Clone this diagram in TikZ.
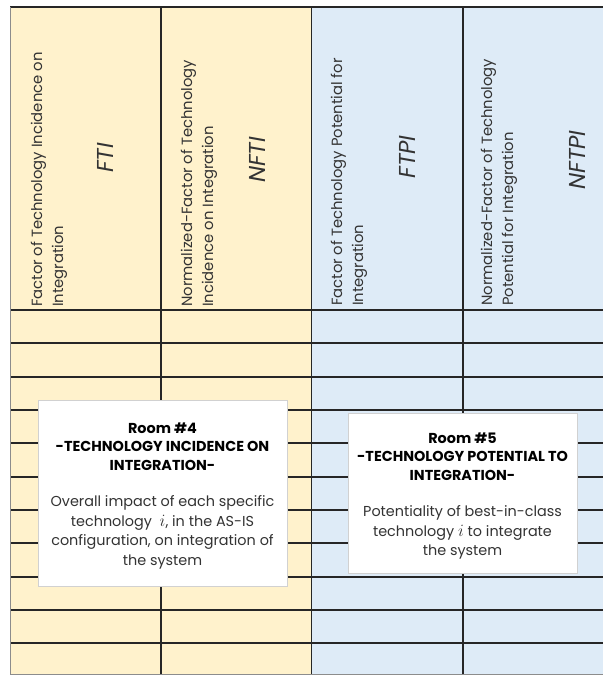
\documentclass[tikz,border=0pt]{standalone}
\usepackage{fontspec}
\setmainfont{Poppins}
\definecolor{yellowbg}{HTML}{FFF2CC}
\definecolor{bluebg}{HTML}{DEEBF7}
\definecolor{inkgray}{HTML}{333333}
\newcommand{\techi}{{\fontsize{17}{19}\selectfont$i$}}
\begin{document}
\begin{tikzpicture}[x=1pt,y=-1pt,
  grid/.style={draw=black!85, line width=1.2pt},
  edge/.style={draw=black!45, line width=1pt},
  hdr/.style={rotate=90, anchor=base west, inner sep=0pt, text=inkgray,
    font=\fontsize{14.8}{16}\selectfont},
  sym/.style={rotate=90, inner sep=0pt, text=inkgray,
    font=\fontsize{23}{25}\selectfont\itshape},
  roombox/.style={draw=black!18, fill=white, line width=0.9pt, inner sep=0pt},
  roomtext/.style={align=center, inner sep=0pt, text=inkgray,
    font=\fontsize{14.4}{19.5}\selectfont},
]
\useasboundingbox (0,0) rectangle (603,675);
\fill[white] (0,0) rectangle (603,675);

% column backgrounds
\fill[yellowbg] (10,7) rectangle (311,674);
\fill[bluebg] (311,7) rectangle (603,674);

% table rules
\draw[grid] (10,7) -- (603,7);
\draw[grid] (10,310) -- (603,310);
\foreach \yy in {343,377,410,443,477,510,543,577,610,643}
  \draw[grid] (10,\yy) -- (603,\yy);
\draw[edge] (10,7) -- (10,674);
\draw[edge] (10,674) -- (603,674);
\draw[grid] (161,7) -- (161,674);
\draw[grid, line width=1.6pt] (311.5,7) -- (311.5,674);
\draw[grid] (463,7) -- (463,674);

% column headings
\node[hdr] (h1a) at (42,307) {Factor of Technology Incidence on};
\node[hdr] (h1b) at (63,307) {Integration};
\node[sym] (h1s) at (105,158) {FTI};

\node[hdr] (h2a) at (192,307) {Normalized-Factor of Technology};
\node[hdr] (h2b) at (213,307) {Incidence on Integration};
\node[sym] (h2s) at (257,160) {NFTI};

\node[hdr] (h3a) at (342,306) {Factor of Technology Potential for};
\node[hdr] (h3b) at (363,306) {Integration};
\node[sym] (h3s) at (407,157) {FTPI};

\node[hdr] (h4a) at (492,306) {Normalized-Factor of Technology};
\node[hdr] (h4b) at (513,306) {Potential for Integration};
\node[sym] (h4s) at (577,160) {NFTPI};

% room boxes
\node[roombox, minimum width=249, minimum height=186] (room4) at (162.5,493) {};
\node[roomtext] (room4t) at (162.5,496)
  {{\color{black}\bfseries Room \#4}\\[-1pt]
   {\color{black}\bfseries -TECHNOLOGY INCIDENCE ON}\\[-1pt]
   {\color{black}\bfseries INTEGRATION-}\\[17pt]
   Overall impact of each specific\\
   technology \ \techi, in the AS-IS\\
   configuration, on integration of\\
   the system};

\node[roombox, minimum width=229, minimum height=160] (room5) at (462.5,493) {};
\node[roomtext] (room5t) at (462.5,496)
  {{\color{black}\bfseries Room \#5}\\[-1pt]
   {\color{black}\bfseries -TECHNOLOGY POTENTIAL TO}\\[-1pt]
   {\color{black}\bfseries INTEGRATION-}\\[17pt]
   Potentiality of best-in-class\\
   technology \techi\ to integrate\\
   the system};
\end{tikzpicture}
\end{document}
